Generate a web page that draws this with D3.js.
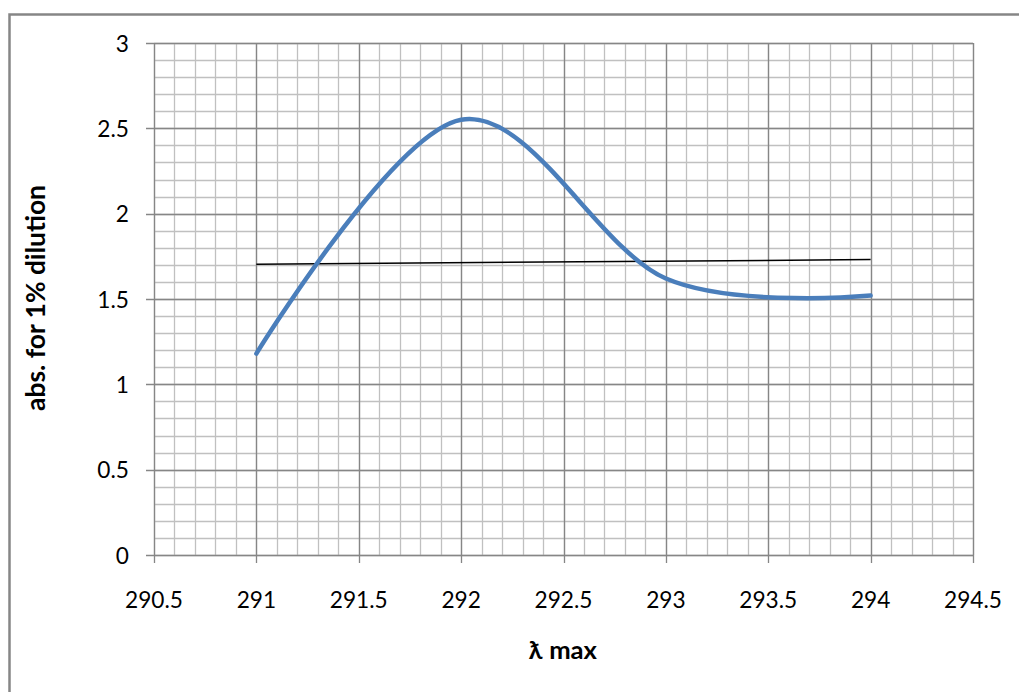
<!DOCTYPE html>
<html>
<head>
<meta charset="utf-8">
<script src="https://cdn.jsdelivr.net/npm/d3@7"></script>
<style>
html,body{margin:0;padding:0;background:#fff;}
svg{display:block;}
text{font-family:Lato, "Open Sans", "Liberation Sans", sans-serif;}
</style>
</head>
<body>
<svg id="chart" width="1019" height="692"></svg>
<script>
const xValues = [291, 292, 293, 294];
const yValues = [1.18, 2.55, 1.62, 1.52];
const xTicks = [290.5, 291, 291.5, 292, 292.5, 293, 293.5, 294, 294.5];
const yTicks = [0, 0.5, 1, 1.5, 2, 2.5, 3];
const xLabel = "ƛ max";
const yLabel = "abs. for 1% dilution";

const svg = d3.select("#chart");
const W = 1019, H = 692;
const m = {left: 154, top: 43, right: 973, bottom: 555};

svg.append("rect").attr("x", 9.5).attr("y", 14.5).attr("width", W + 20).attr("height", H + 20)
  .attr("fill", "#fff").attr("stroke", "#868686").attr("stroke-width", 2.5);

const x = d3.scaleLinear().domain([290.5, 294.5]).range([m.left, m.right]);
const y = d3.scaleLinear().domain([0, 3]).range([m.bottom, m.top]);

const minorX = d3.range(0, 41).map(i => 290.5 + i * 0.1);
const minorY = d3.range(0, 31).map(i => i * 0.1);

const g = svg.append("g");
g.selectAll(".mx").data(minorX).enter().append("line")
  .attr("x1", d => Math.round(x(d)) + 0.5).attr("x2", d => Math.round(x(d)) + 0.5)
  .attr("y1", m.top).attr("y2", m.bottom)
  .attr("stroke", "#c0c0c0").attr("stroke-width", 1.3);
g.selectAll(".my").data(minorY).enter().append("line")
  .attr("y1", d => Math.round(y(d)) + 0.5).attr("y2", d => Math.round(y(d)) + 0.5)
  .attr("x1", m.left).attr("x2", m.right)
  .attr("stroke", "#c0c0c0").attr("stroke-width", 1.3);
g.selectAll(".Mx").data(xTicks).enter().append("line")
  .attr("x1", d => Math.round(x(d)) + 0.5).attr("x2", d => Math.round(x(d)) + 0.5)
  .attr("y1", m.top).attr("y2", m.bottom + 8)
  .attr("stroke", "#868686").attr("stroke-width", 1.3);
g.selectAll(".My").data(yTicks).enter().append("line")
  .attr("y1", d => Math.round(y(d)) + 0.5).attr("y2", d => Math.round(y(d)) + 0.5)
  .attr("x1", m.left - 8).attr("x2", m.right)
  .attr("stroke", "#868686").attr("stroke-width", 1.3);

// fit font size so a sample text reaches a target width
function fitSize(sample, target, weight) {
  const t = svg.append("text").attr("font-size", 20).attr("font-weight", weight).text(sample);
  const w = t.node().getComputedTextLength();
  t.remove();
  return 20 * target / w;
}
const tickSize = fitSize("290.5", 58, "normal");
const xTitleSize = fitSize(xLabel, 68, "bold");
const yTitleSize = fitSize(yLabel, 226, "bold");

svg.selectAll(".xt").data(xTicks).enter().append("text")
  .attr("x", d => x(d)).attr("y", 608)
  .attr("text-anchor", "middle").attr("font-size", tickSize).attr("fill", "#000")
  .text(d => d);
svg.selectAll(".yt").data(yTicks).enter().append("text")
  .attr("x", 129).attr("y", d => y(d) + 8.5)
  .attr("text-anchor", "end").attr("font-size", tickSize).attr("fill", "#000")
  .text(d => d);

svg.append("text").attr("x", 563).attr("y", 659).attr("text-anchor", "middle")
  .attr("font-size", xTitleSize).attr("font-weight", "bold").text(xLabel);
svg.append("text").attr("transform", "translate(45,298) rotate(-90)").attr("text-anchor", "middle")
  .attr("font-size", yTitleSize).attr("font-weight", "bold").text(yLabel);

// linear trendline from data
const pts = xValues.map((v, i) => [v, yValues[i]]);
const mx = d3.mean(xValues), my = d3.mean(yValues);
const slope = d3.sum(pts, p => (p[0] - mx) * (p[1] - my)) / d3.sum(pts, p => (p[0] - mx) ** 2);
const icpt = my - slope * mx;
const xe = d3.extent(xValues);
svg.append("line")
  .attr("x1", x(xe[0])).attr("y1", y(icpt + slope * xe[0]))
  .attr("x2", x(xe[1])).attr("y2", y(icpt + slope * xe[1]))
  .attr("stroke", "#000").attr("stroke-width", 1.5);

const line = d3.line().x(d => x(d[0])).y(d => y(d[1])).curve(d3.curveCardinal.tension(0));
svg.append("path").datum(pts).attr("d", line)
  .attr("fill", "none").attr("stroke", "#4a7ebb").attr("stroke-width", 4.5)
  .attr("stroke-linecap", "round");
</script>
</body>
</html>
